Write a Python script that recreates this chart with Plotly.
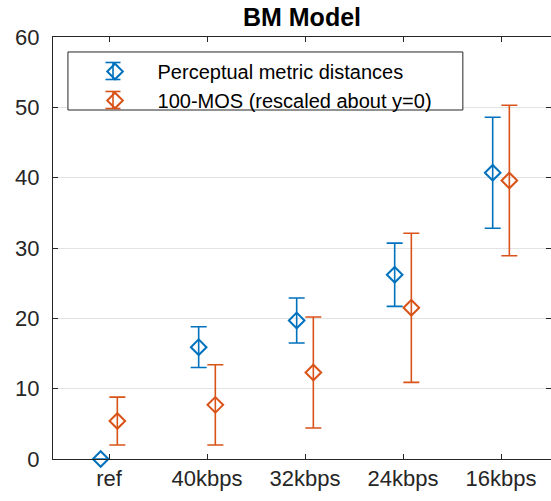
import plotly.graph_objects as go

categories = ["ref", "40kbps", "32kbps", "24kbps", "16kbps"]
pm_mean = [0.0, 15.9, 19.7, 26.2, 40.7]
pm_err = [0.0, 2.9, 3.2, 4.5, 7.9]
mos_mean = [5.4, 7.7, 12.3, 21.5, 39.6]
mos_err = [3.4, 5.7, 7.9, 10.6, 10.7]
y_ticks = [0, 10, 20, 30, 40, 50, 60]

BLUE = "#0072BD"
ORANGE = "#D95319"
OFF = 0.085
FONT = "Liberation Sans, Arial, Helvetica, sans-serif"

idx = list(range(1, len(categories) + 1))

fig = go.Figure()
fig.add_trace(go.Scatter(
    x=[i - OFF for i in idx], y=pm_mean, mode="markers",
    name="Perceptual metric distances",
    marker=dict(symbol="diamond-open", size=12, color=BLUE, line=dict(width=2, color=BLUE)),
    error_y=dict(type="data", array=pm_err, visible=True, color=BLUE, thickness=1.6, width=8),
    cliponaxis=False,
))
fig.add_trace(go.Scatter(
    x=[i + OFF for i in idx], y=mos_mean, mode="markers",
    name="100-MOS (rescaled about y=0)",
    marker=dict(symbol="diamond-open", size=12, color=ORANGE, line=dict(width=2, color=ORANGE)),
    error_y=dict(type="data", array=mos_err, visible=True, color=ORANGE, thickness=1.6, width=8),
    cliponaxis=False,
))

# legend box
fig.add_shape(type="rect", xref="paper", yref="paper",
              x0=0.030, x1=0.823, y0=0.827, y1=0.9645,
              line=dict(color="#262626", width=1), fillcolor="white", layer="above")

# error-bar part of the legend glyphs (vertical stem + caps)
gx, gx0, gx1 = 0.1205, 0.1054, 0.1355
for col, (ytop, ybot) in [(BLUE, (0.9396, 0.8993)), (ORANGE, (0.8709, 0.8306))]:
    fig.add_shape(type="line", xref="paper", yref="paper", x0=gx, x1=gx, y0=ybot, y1=ytop,
                  line=dict(color=col, width=1.6), layer="above")
    for yy in (ytop, ybot):
        fig.add_shape(type="line", xref="paper", yref="paper", x0=gx0, x1=gx1, y0=yy, y1=yy,
                      line=dict(color=col, width=1.6), layer="above")

fig.update_layout(
    width=551, height=501,
    margin=dict(l=53, r=0, t=37, b=42),
    plot_bgcolor="white", paper_bgcolor="white",
    font=dict(family=FONT, color="#262626"),
    title=dict(text="<b>BM Model</b>", x=0.5, xref="paper", xanchor="center",
               y=0.966, yref="container", yanchor="middle",
               font=dict(size=25, color="black", family=FONT)),
    showlegend=True,
    legend=dict(x=0.0392, y=0.9645, xanchor="left", yanchor="top",
                bgcolor="rgba(0,0,0,0)", borderwidth=0,
                font=dict(size=20, color="black", family=FONT),
                itemwidth=75, tracegroupgap=0),
    xaxis=dict(range=[0.4286, 5.51], tickmode="array", tickvals=idx, ticktext=categories,
               showgrid=False, zeroline=False, showline=True, linecolor="#262626", linewidth=1,
               mirror="ticks", ticks="inside", ticklen=5, tickcolor="#262626",
               tickfont=dict(size=22, color="#262626")),
    yaxis=dict(range=[0, 60], tickmode="array", tickvals=y_ticks,
               showgrid=True, gridcolor="#e3e3e3", gridwidth=1, zeroline=False,
               showline=True, linecolor="#262626", linewidth=1,
               mirror="ticks", ticks="inside", ticklen=5, tickcolor="#262626",
               tickfont=dict(size=22, color="#262626"), ticklabelstandoff=8),
)

fig.write_html("out.html")
